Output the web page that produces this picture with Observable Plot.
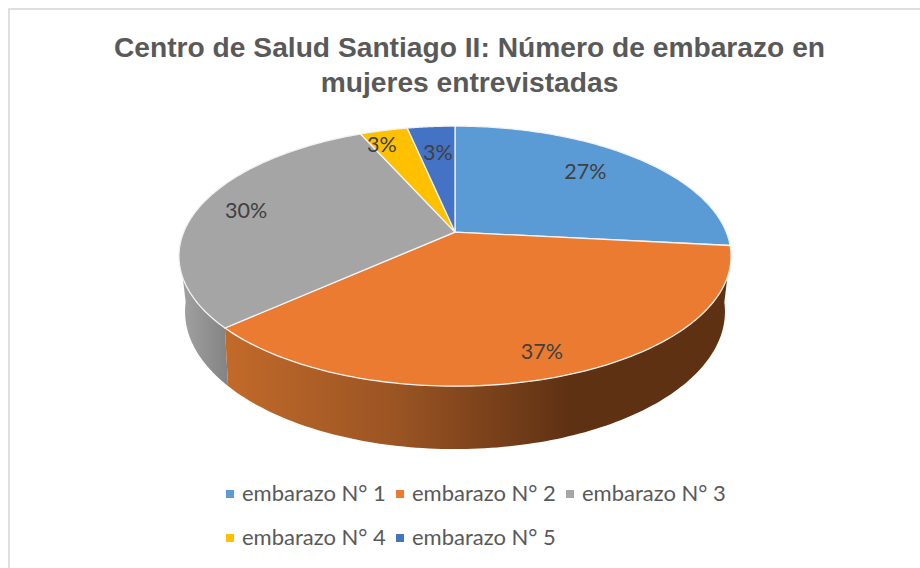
<!DOCTYPE html>
<html lang="es">
<head>
<meta charset="utf-8">
<script src="https://cdn.jsdelivr.net/npm/d3@7"></script>
<script src="https://cdn.jsdelivr.net/npm/@observablehq/plot@0.6"></script>
<style>
  html, body { margin: 0; padding: 0; background: #fff; }
  #frame { position: relative; width: 920px; height: 568px; overflow: hidden; }
  #border { position: absolute; left: 8px; top: 8px; width: 930px; height: 580px; border: 2px solid #dfdfdf; box-sizing: border-box; }
  #title { position: absolute; left: 0; top: 30px; width: 939px; text-align: center; font: bold 28.2px/35px "Liberation Sans", Arial, sans-serif; color: #595959; white-space: nowrap; }
  #chart { position: absolute; left: 0; top: 110px; }
  #legend { position: absolute; left: 0; top: 471px; width: 920px; font: 22px/44px Lato, sans-serif; color: #595959; }
  .row { position: absolute; left: 226px; white-space: nowrap; }
  .item { display: inline-block; width: 170px; }
  .sw { display: inline-block; width: 8px; height: 8px; margin-right: 8px; vertical-align: 3px; }
</style>
</head>
<body>
<div id="frame">
  <div id="border"></div>
  <div id="title"></div>
  <div id="chart"></div>
  <div id="legend"></div>
</div>
<script>
const titleLines = ["Centro de Salud Santiago II: Número de embarazo en", "mujeres entrevistadas"];
const categories = ["embarazo N° 1", "embarazo N° 2", "embarazo N° 3", "embarazo N° 4", "embarazo N° 5"];
const counts = [8, 11, 9, 1, 1];
const colors = ["#5b9bd5", "#eb7b30", "#a5a5a5", "#ffc000", "#4472c4"];
const legendRows = [[0, 1, 2], [3, 4]];
// label position along the radius, and small pixel nudges
const labelRadius = [0.72, 0.78, 0.72, 0.82, 0.82];
const labelDx = [-3, 11, -23, -13, 3];
const labelDy = [-4, 12, -3, -1, 10];

// perspective of the tilted disc (top face and base face)
const tilt = 0.1848;
const base = {scale: 264.5 / 271.3, tilt: 0.2, height: 132 / 125.6, shift: 52 / 125.6};

const total = d3.sum(counts);
let acc = 0;
const slices = categories.map((name, i) => {
  const a0 = acc / total * 2 * Math.PI;
  acc += counts[i];
  return {name, i, a0, a1: acc / total * 2 * Math.PI, share: counts[i] / total};
});

const topPoint = (a, r = 1) => {
  const c = r * Math.cos(a), s = r * Math.sin(a), w = 1 / (1 + tilt * c);
  return {x: s * w, y: -c * w};
};
const basePoint = (a) => {
  const c = Math.cos(a), s = Math.sin(a), w = 1 / (1 + base.tilt * c);
  return {x: base.scale * s * w, y: base.shift - c * w * base.height};
};
const arc = (a0, a1, f) => d3.range(0, 121).map(k => f(a0 + (a1 - a0) * k / 120));

const wedge = s => [{x: 0, y: 0}, ...arc(s.a0, s.a1, a => topPoint(a))];
const wall = (a0, a1) => [...arc(a0, a1, a => topPoint(a)), ...arc(a0, a1, basePoint).reverse()];

const orange = slices[1], gray = slices[2];
const marks = [
  () => {
    const defs = d3.create("svg:defs");
    const add = (id, x1, x2, stops) => {
      const g = defs.append("linearGradient").attr("id", id).attr("gradientUnits", "userSpaceOnUse")
        .attr("x1", x1).attr("x2", x2).attr("y1", 0).attr("y2", 0);
      stops.forEach(([o, c]) => g.append("stop").attr("offset", o).attr("stop-color", c));
    };
    add("sideOrange", 224, 570, [[0, "#c26a2a"], [0.5, "#9a5423"], [1, "#5e3113"]]);
    add("sideGray", 180, 232, [[0, "#a2a2a2"], [1, "#808080"]]);
    return defs.node();
  },
  Plot.line(wall(gray.a0, gray.a0 + 0.6), {x: "x", y: "y", fill: "url(#sideGray)", stroke: "none", curve: "linear-closed"}),
  Plot.line(wall(orange.a0 + 0.03, orange.a1), {x: "x", y: "y", fill: "url(#sideOrange)", stroke: "none", curve: "linear-closed"}),
  ...slices.map(s => Plot.line(wedge(s), {
    x: "x", y: "y", fill: colors[s.i], stroke: "#f2f2f2", strokeWidth: 1.3, curve: "linear-closed"
  })),
  ...slices.map(s => {
    const mid = (s.a0 + s.a1) / 2;
    return Plot.text([{...topPoint(mid, labelRadius[s.i]), label: d3.format(".0%")(s.share)}], {
      x: "x", y: "y", text: "label", dx: labelDx[s.i], dy: labelDy[s.i],
      fontSize: 21.5, fill: "#404040", fontFamily: "Lato, sans-serif"
    });
  })
];

const chart = Plot.plot({
  width: 920, height: 350, margin: 0,
  style: {background: "transparent"},
  x: {domain: [-1, 1], range: [454.5 - 271.3, 454.5 + 271.3], axis: null},
  y: {domain: [-1, 1], range: [121.6 - 125.6, 121.6 + 125.6], axis: null},
  marks
});
document.getElementById("chart").append(chart);

document.getElementById("title").innerHTML = titleLines.join("<br>");
const legend = document.getElementById("legend");
legendRows.forEach((row, r) => {
  const el = document.createElement("div");
  el.className = "row";
  el.style.top = (r * 44) + "px";
  row.forEach(i => {
    const it = document.createElement("span");
    it.className = "item";
    it.innerHTML = `<span class="sw" style="background:${colors[i]}"></span>${categories[i]}`;
    el.append(it);
  });
  legend.append(el);
});
</script>
</body>
</html>
